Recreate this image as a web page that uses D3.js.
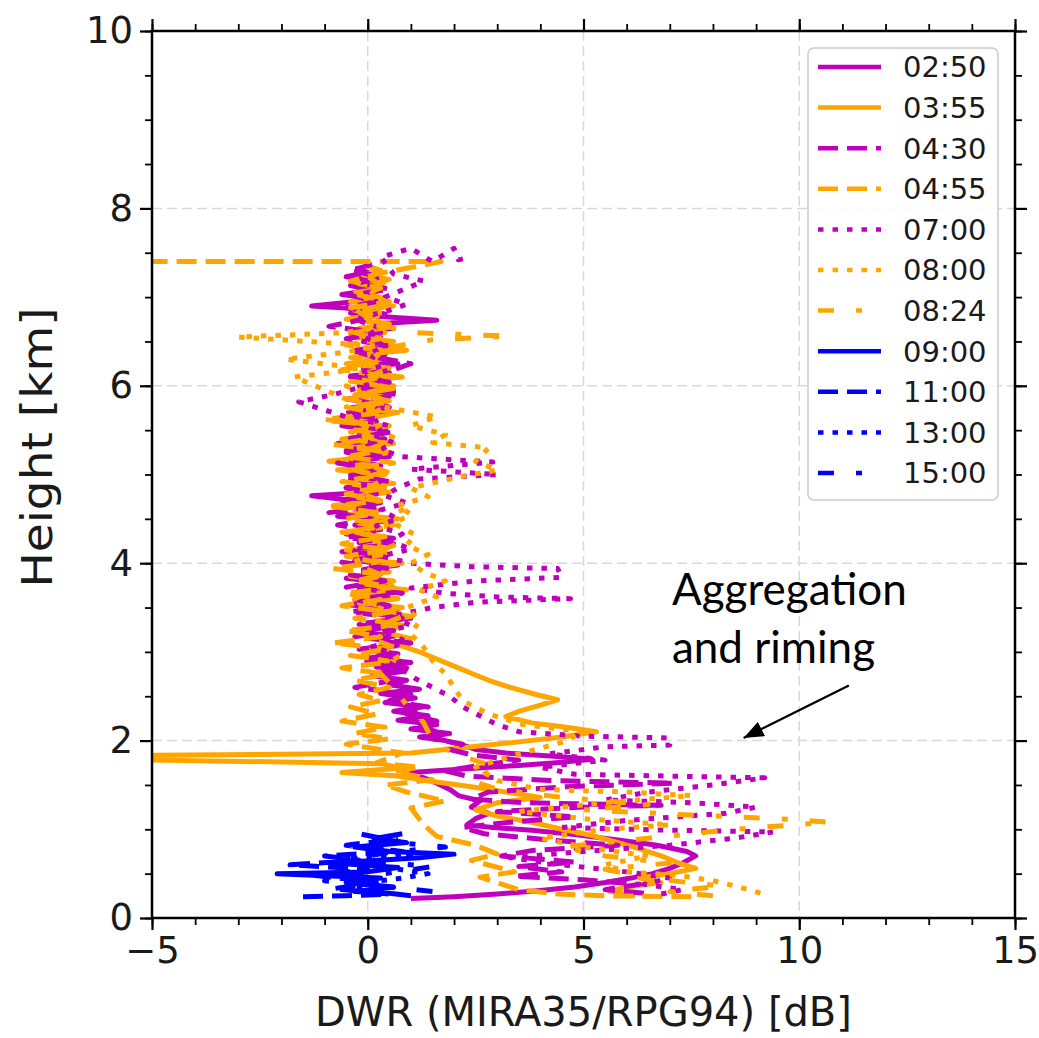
<!DOCTYPE html>
<html>
<head>
<meta charset="utf-8">
<script src="https://cdn.jsdelivr.net/npm/d3@7"></script>
<style>
  body { margin: 0; background: #fff; }
  svg { display: block; font-family: "DejaVu Sans", sans-serif; }
</style>
</head>
<body>
<svg id="dwrVis" width="1039" height="1038"></svg>
<script>
// DWR profiles, each point is [DWR dB, height km]
const s0250 = [[1.0,0.22],[2.0,0.24],[3.0,0.27],[4.0,0.31],[4.8,0.35],[5.5,0.40],[6.1,0.45],[6.6,0.50],[7.0,0.56],[7.3,0.62],[7.6,0.70],[7.4,0.75],[6.7,0.82],[5.8,0.88],[4.8,0.94],[3.8,0.99],[2.9,1.02],[2.3,1.05],[2.5,1.12],[2.8,1.18],[2.4,1.25],[2.6,1.32],[2.1,1.38],[1.9,1.45],[1.6,1.52],[1.3,1.58],[1.0,1.64],[2.2,1.68],[3.5,1.72],[4.6,1.76],[5.2,1.79],[4.4,1.82],[3.2,1.86],[2.5,1.9],[2.2,1.95],[1.8,2.0],
  [1.2,2.04],[1.9,2.08],[1.0,2.13],[1.6,2.18],[0.7,2.23],[1.4,2.28],[0.6,2.33],[1.3,2.38],[0.4,2.43],[1.1,2.48],[0.3,2.53],[1.2,2.58],[0.5,2.63],[0.9,2.68],[0.1,2.73],[0.8,2.78],[0.2,2.83],[1.0,2.88],[0.0,2.93],[0.7,2.98],[-0.1,3.03],[0.9,3.08],[0.3,3.13],[0.6,3.18],[-0.3,3.23],[0.5,3.28],[0.0,3.33],[1.0,3.38],[0.2,3.43],[0.7,3.48],[-0.4,3.53],[0.4,3.58],[-0.2,3.63],[0.8,3.68],[0.0,3.73],[0.5,3.78],[-0.5,3.83],[0.3,3.88],[-0.1,3.93],[0.7,3.98],[-0.3,4.03],[0.4,4.08],[-0.6,4.13],[0.2,4.18],[-0.2,4.23],[0.6,4.28],[-0.5,4.33],[0.3,4.38],[-0.3,4.43],[0.5,4.48],[-0.7,4.53],[0.1,4.58],[-0.4,4.63],[0.3,4.68],[-0.6,4.72],[-1.3,4.76],[0.0,4.8],[-0.5,4.85],[0.4,4.9],[-0.4,4.95],[0.2,5.0],[-0.6,5.05],[0.3,5.1],[-0.3,5.15],[0.5,5.2],[-0.5,5.25],[0.1,5.3],[-0.7,5.35],[0.4,5.4],[-0.2,5.45],[0.3,5.5],[-0.6,5.55],[0.2,5.6],[-0.3,5.65],[0.5,5.7],[-0.4,5.75],[0.3,5.8],[-0.5,5.85],[0.1,5.9],[0.6,5.95],[-0.2,6.0],[0.4,6.05],[-0.4,6.1],[0.5,6.15],[-0.1,6.2],[0.7,6.25],[0.0,6.3],[0.4,6.35],[-0.3,6.4],[0.5,6.45],[-0.1,6.5],[0.3,6.55],[-0.4,6.6],[0.6,6.65],[0.2,6.7],[1.6,6.74],[0.3,6.78],[-0.4,6.82],[0.1,6.86],[-1.3,6.9],[-0.5,6.94],[0.2,6.98],[-0.6,7.03],[0.1,7.08],[-0.4,7.13],[0.3,7.18],[-0.5,7.23],[0.0,7.28],[-0.3,7.32]];

const s0355 = [[6.2,0.25],[5.6,0.3],[6.0,0.35],[6.8,0.4],[6.3,0.45],[7.0,0.5],[7.6,0.56],[7.2,0.62],[6.8,0.7],[6.3,0.78],[5.8,0.85],[5.2,0.93],[4.5,1.0],[3.8,1.08],[3.0,1.15],[2.5,1.22],[3.0,1.3],[4.0,1.36],[3.2,1.42],[2.4,1.48],[1.5,1.54],[0.7,1.6],[-0.6,1.64],[0.8,1.69],[0.3,1.74],[-6.0,1.79],[-6.0,1.83],[1.0,1.86],[2.2,1.92],[3.4,1.98],[4.5,2.04],[5.3,2.1],[4.6,2.15],[3.8,2.2],[3.2,2.27],[3.5,2.33],[4.0,2.4],[4.4,2.46],[3.9,2.52],[3.3,2.6],[2.8,2.68],[2.4,2.76],[2.0,2.84],[1.6,2.92],[1.2,3.0],[0.7,3.08],[1.0,3.15],[0.4,3.22],[0.8,3.3],
  [0.2,3.35],[1.0,3.4],[0.3,3.45],[0.8,3.5],[-0.2,3.55],[0.7,3.6],[0.0,3.65],[0.9,3.7],[-0.1,3.75],[0.6,3.8],[-0.4,3.85],[0.5,3.9],[0.1,3.95],[0.8,4.0],[-0.3,4.05],[0.4,4.1],[-0.5,4.15],[0.6,4.2],[0.0,4.25],[0.4,4.3],[-0.6,4.35],[0.3,4.4],[-0.2,4.45],[0.7,4.5],[-0.4,4.55],[0.2,4.6],[-0.8,4.65],[0.3,4.7],[-0.3,4.75],[0.5,4.8],[-0.5,4.85],[0.6,4.9],[-0.2,4.95],[0.4,5.0],[-0.7,5.05],[0.2,5.1],[-0.9,5.15],[0.0,5.2],[0.5,5.25],[-0.4,5.3],[0.6,5.35],[-0.6,5.4],[0.3,5.45],[-0.3,5.5],[0.4,5.55],[-0.8,5.6],[0.2,5.65],[0.7,5.7],[-0.3,5.75],[0.4,5.8],[-0.5,5.85],[0.3,5.9],[-0.2,5.95],[0.6,6.0],[-0.4,6.05],[0.8,6.1],[0.0,6.15],[0.5,6.2],[-0.5,6.25],[0.3,6.3],[-0.2,6.35],[0.9,6.4],[0.1,6.45],[0.6,6.5],[-0.4,6.55],[0.4,6.6],[-0.2,6.65],[0.5,6.7],[-0.5,6.75],[0.2,6.8],[-0.3,6.85],[0.6,6.9],[-0.4,6.95],[0.3,7.0],[-0.3,7.05],[0.4,7.1],[-0.2,7.15],[0.5,7.2],[-0.1,7.25],[0.3,7.3],[0.0,7.35]];

const s0430 = [[6.4,0.28],[5.5,0.32],[6.3,0.38],[5.0,0.43],[3.4,0.47],[4.5,0.52],[3.5,0.58],[4.8,0.63],[3.1,0.7],[3.8,0.76],[5.8,0.82],[4.2,0.88],[2.7,0.95],[2.2,1.02],[3.3,1.08],[4.8,1.14],[3.0,1.2],[5.0,1.25],[6.8,1.27],[3.6,1.3],[2.4,1.34],[2.8,1.42],[4.6,1.48],[7.1,1.52],[4.2,1.55],[2.3,1.6],[1.8,1.66],[2.6,1.72],[3.5,1.78],[2.4,1.84],[1.9,1.9],[2.2,1.96],[1.5,2.02],[1.8,2.08],[1.2,2.15],[1.6,2.22],[0.9,2.3],[1.4,2.38],[0.5,2.45],[1.0,2.52],[-0.3,2.6],[0.6,2.68],[0.2,2.75],
  [0.9,2.82],[-0.1,2.89],[0.7,2.96],[-0.2,3.03],[1.0,3.1],[-0.3,3.17],[0.6,3.24],[-0.2,3.31],[0.8,3.38],[-0.4,3.45],[0.5,3.52],[-0.3,3.59],[0.8,3.66],[-0.5,3.73],[0.4,3.8],[-0.4,3.87],[0.5,3.94],[-0.6,4.01],[0.2,4.08],[-0.4,4.15],[0.6,4.22],[-0.5,4.29],[0.2,4.36],[-0.7,4.43],[0.1,4.5],[-0.9,4.57],[0.3,4.64],[-0.6,4.71],[0.2,4.78],[-0.5,4.85],[0.5,4.92],[-0.4,4.99],[0.2,5.06],[-0.7,5.13],[0.3,5.2],[-0.5,5.27],[0.2,5.34],[-0.4,5.41],[0.6,5.48],[-0.2,5.55],[0.3,5.62],[-0.5,5.69],[0.5,5.76],[-0.2,5.83],[0.7,5.9],[-0.1,5.97],[0.5,6.04],[-0.4,6.11],[0.6,6.18],[1.0,6.25],[0.2,6.32],[-0.3,6.39],[0.5,6.46],[-0.5,6.53],[0.3,6.6],[-0.9,6.67],[-0.2,6.74],[0.4,6.81],[-0.5,6.88],[0.2,6.95],[-0.4,7.02],[0.5,7.09],[-0.2,7.16],[0.3,7.23],[-0.4,7.3],[0.1,7.37]];

const s0455 = [[7.5,0.24],[5.5,0.25],[4.4,0.27],[3.5,0.32],[2.6,0.46],[3.4,0.52],[2.4,0.65],[3.0,0.72],[2.5,0.82],[1.6,0.92],[1.3,1.05],[1.0,1.24],[1.8,1.32],[0.9,1.42],[0.4,1.5],[1.5,1.56],[0.6,1.65],[1.2,1.7],[0.2,1.75],[0.8,1.86],[-0.5,1.96],[0.5,2.02],[-0.3,2.08],[0.4,2.15],[-0.6,2.22],[0.2,2.3],[-0.4,2.38],[0.3,2.45],[-0.2,2.52],[0.5,2.6],[-0.3,2.68],
  [0.4,2.75],[-0.6,2.82],[0.6,2.89],[-0.4,2.96],[0.5,3.03],[-0.8,3.1],[0.3,3.17],[-0.5,3.24],[0.8,3.31],[-0.3,3.38],[0.5,3.45],[-0.6,3.52],[0.3,3.59],[-0.5,3.66],[0.6,3.73],[-0.3,3.8],[0.4,3.87],[-0.8,3.94],[0.2,4.01],[-0.5,4.08],[0.5,4.15],[-0.6,4.22],[0.3,4.29],[-0.4,4.36],[0.6,4.43],[-0.5,4.5],[0.2,4.57],[-0.8,4.64],[0.3,4.71],[-0.5,4.78],[0.5,4.85],[-0.6,4.92],[0.2,4.99],[-0.4,5.06],[0.6,5.13],[-0.5,5.2],[0.3,5.27],[-0.8,5.34],[0.2,5.41],[-0.4,5.48],[0.5,5.55],[-1.0,5.62],[0.2,5.69],[-0.5,5.76],[0.5,5.83],[-0.3,5.9],[0.6,5.97],[-0.2,6.04],[0.4,6.11],[-0.6,6.18],[0.2,6.25],[-0.4,6.32],[0.5,6.39],[-0.5,6.46],[0.3,6.53],[-0.3,6.6],[0.6,6.67],[-0.2,6.74],[0.4,6.81],[-0.4,6.88],[0.5,6.95],[-0.2,7.02],[0.3,7.1],[-0.4,7.18],[0.2,7.26],[1.7,7.4],[-6.0,7.4]];

const s0700 = [[6.8,0.27],[7.3,0.32],[6.4,0.38],[7.0,0.45],[6.0,0.52],[4.5,0.6],[3.3,0.68],[5.0,0.75],[7.0,0.82],[8.5,0.9],[9.4,0.97],[7.0,0.99],[4.5,1.02],[6.0,1.1],[8.3,1.18],[9.0,1.25],[7.5,1.3],[5.5,1.33],[6.5,1.42],[8.0,1.5],[9.2,1.58],[7.0,1.6],[4.8,1.62],[4.0,1.7],[5.5,1.78],[4.2,1.85],[5.5,1.93],[7.0,1.95],[7.0,2.03],[5.0,2.05],[3.5,2.1],[3.0,2.18],[2.6,2.28],[2.2,2.38],[1.9,2.5],[1.5,2.6],[1.1,2.7],[0.8,2.8],[0.4,2.9],
  [0.6,2.98],[0.1,3.06],[0.8,3.14],[0.3,3.22],[1.0,3.3],[0.5,3.4],[1.5,3.5],[2.5,3.56],[4.7,3.6],[3.0,3.62],[1.8,3.66],[1.0,3.72],[2.5,3.8],[4.5,3.84],[4.4,3.94],[2.4,3.96],[1.0,4.0],[0.3,4.08],[1.0,4.16],[0.5,4.25],[0.8,4.33],[0.2,4.42],[0.7,4.5],[0.3,4.6],[0.9,4.68],[0.4,4.76],[0.7,4.85],[1.2,4.95],[3.0,5.0],[1.0,5.06],[2.9,5.14],[0.8,5.2],[0.3,5.28],[0.6,5.36],[0.1,5.45],[0.5,5.55],[-0.5,5.65],[-1.6,5.82],[-0.8,5.9],[-0.2,5.98],[0.3,6.06],[-0.2,6.15],[0.5,6.25],[0.0,6.35],[0.4,6.45],[-0.1,6.55],[0.3,6.65],[-0.3,6.75],[0.5,6.85],[0.9,6.92],[0.4,7.0],[0.8,7.08],[1.3,7.18],[0.6,7.26],[0.3,7.45],[1.0,7.55],[1.5,7.4],[2.0,7.55],[2.1,7.42],[2.4,7.45]];

const s0800 = [[9.1,0.28],[8.6,0.35],[8.0,0.42],[7.2,0.48],[6.0,0.52],[5.5,0.6],[6.5,0.7],[5.0,0.8],[4.0,0.9],[5.5,1.0],[7.0,1.05],[5.0,1.12],[3.5,1.2],[5.5,1.3],[7.5,1.38],[6.0,1.42],[4.0,1.45],[3.0,1.55],[2.5,1.7],[3.5,1.85],[4.5,1.98],[5.0,2.1],[3.6,2.18],[2.8,2.3],[2.2,2.45],[2.0,2.6],[1.8,2.75],[1.5,2.9],[1.3,3.05],[1.0,3.2],[1.2,3.35],[0.9,3.5],[1.6,3.62],[1.2,3.7],[1.8,3.8],[1.3,3.9],[1.0,4.0],[1.4,4.1],[0.9,4.2],[1.1,4.32],[0.6,4.45],[1.0,4.55],[0.7,4.65],[1.4,4.75],[1.0,4.85],[2.2,4.98],[3.0,5.05],[2.5,5.15],[2.8,5.3],[1.5,5.36],[1.8,5.45],[1.0,5.55],[1.6,5.65],[0.5,5.75],[-0.5,5.85],[-1.7,6.1],[-0.8,6.15],[-0.2,6.2],[-1.9,6.3],[-0.5,6.38],[0.2,6.45],[-3.0,6.55],[-0.5,6.6],[0.4,6.68],[0.0,6.8],[0.5,6.92],[0.1,7.05],[0.4,7.18],[0.0,7.3]];

const s0824 = [[8.0,0.25],[7.0,0.3],[8.2,0.36],[6.5,0.45],[5.5,0.55],[7.0,0.62],[5.5,0.7],[4.5,0.8],[6.5,0.9],[8.5,1.0],[10.7,1.08],[9.5,1.12],[7.5,1.16],[5.0,1.22],[6.5,1.28],[4.5,1.36],[3.0,1.45],[2.4,1.55],[3.0,1.7],[2.0,1.85],[1.5,2.0],[1.3,2.2],[0.9,2.4],[0.6,2.6],[0.2,2.8],[0.9,3.0],[-0.2,3.2],[0.8,3.4],[-0.3,3.6],[0.7,3.8],[-0.4,4.0],[0.6,4.2],[-0.3,4.4],[0.8,4.6],[-0.2,4.8],[0.6,5.0],[-0.5,5.2],[0.7,5.4],[-0.3,5.6],[0.6,5.8],[-0.5,6.0],[0.5,6.2],[0.1,6.4],[1.5,6.52],[3.3,6.56],[1.0,6.6],[0.2,6.7],[-0.4,6.9],[0.4,7.1],[-0.2,7.3]];

const s0900 = [[1.0,0.25],[0.5,0.28],[-0.3,0.3],[0.6,0.35],[-0.5,0.4],[0.3,0.45],[-2.1,0.5],[0.0,0.52],[0.7,0.57],[-0.8,0.62],[1.2,0.68],[2.0,0.72],[0.5,0.75],[-0.3,0.8],[0.9,0.85],[0.2,0.9],[0.8,0.95]];
const s1100 = [[-1.5,0.24],[-0.5,0.25],[0.5,0.27],[-0.8,0.33],[0.2,0.4],[-1.2,0.48],[0.0,0.55],[-1.8,0.6],[-0.2,0.65],[-1.0,0.7],[0.8,0.75],[-0.5,0.82],[0.5,0.88],[-0.2,0.95]];
const s1300 = [[0.2,0.3],[-0.4,0.38],[0.8,0.45],[1.4,0.5],[0.3,0.58],[-0.6,0.66],[1.0,0.72],[0.2,0.8],[0.7,0.9]];
const s1500 = [[1.5,0.3],[0.5,0.35],[-1.0,0.42],[0.4,0.5],[1.5,0.58],[-0.5,0.66],[0.5,0.74],[1.8,0.8],[0.0,0.88]];

const seriesNames = ["02:50", "03:55", "04:30", "04:55", "07:00", "08:00", "08:24", "09:00", "11:00", "13:00", "15:00"];
const seriesData = [s0250, s0355, s0430, s0455, s0700, s0800, s0824, s0900, s1100, s1300, s1500];
const xTickValues = [-5, 0, 5, 10, 15];
const yTickValues = [0, 2, 4, 6, 8, 10];

// styles per series
const purple = "#bf00bf", orange = "#ffa500", blue = "#0000ff";
const lineStyles = {
  "02:50": { color: purple, dash: null },
  "03:55": { color: orange, dash: null },
  "04:30": { color: purple, dash: "20,9" },
  "04:55": { color: orange, dash: "20,9" },
  "07:00": { color: purple, dash: "5.5,9" },
  "08:00": { color: orange, dash: "5.5,9" },
  "08:24": { color: orange, dash: "16,22,6,22" },
  "09:00": { color: blue, dash: null },
  "11:00": { color: blue, dash: "20,9" },
  "13:00": { color: blue, dash: "5.5,9" },
  "15:00": { color: blue, dash: "16,22,6,22" }
};

class dwrProfileVis {
  constructor(_config) {
    this.config = {
      parentElement: _config.parentElement,
      containerWidth: _config.containerWidth || 1039,
      containerHeight: _config.containerHeight || 1038,
    }
    this.config.margin = _config.margin || { top: 31, bottom: 120, right: 24, left: 152 };
    this.initVis();
  }

  initVis() {
    let vis = this;
    vis.width = vis.config.containerWidth - vis.config.margin.left - vis.config.margin.right;
    vis.height = vis.config.containerHeight - vis.config.margin.top - vis.config.margin.bottom;

    const svg = d3.select(vis.config.parentElement);
    const g = svg.append('g')
      .attr('transform', `translate(${vis.config.margin.left},${vis.config.margin.top})`);

    vis.xScale = d3.scaleLinear().domain([-5, 15]).range([0, vis.width]);
    vis.yScale = d3.scaleLinear().domain([0, 10]).range([vis.height, 0]);

    // grid
    g.append('g').selectAll('line.vgrid')
      .data(xTickValues.slice(1, -1))
      .join('line')
      .attr('x1', d => vis.xScale(d)).attr('x2', d => vis.xScale(d))
      .attr('y1', 0).attr('y2', vis.height)
      .attr('stroke', '#d9d9d9').attr('stroke-width', 1.5).attr('stroke-dasharray', '10,5');
    g.append('g').selectAll('line.hgrid')
      .data(yTickValues.slice(1, -1))
      .join('line')
      .attr('y1', d => vis.yScale(d)).attr('y2', d => vis.yScale(d))
      .attr('x1', 0).attr('x2', vis.width)
      .attr('stroke', '#d9d9d9').attr('stroke-width', 1.5).attr('stroke-dasharray', '10,5');

    g.append('clipPath').attr('id', 'plotClip')
      .append('rect').attr('width', vis.width).attr('height', vis.height);

    const line = d3.line()
      .x(p => vis.xScale(p[0]))
      .y(p => vis.yScale(p[1]));

    g.append('g').attr('clip-path', 'url(#plotClip)')
      .selectAll('path')
      .data(seriesData)
      .join('path')
      .attr('d', d => line(d))
      .attr('fill', 'none')
      .attr('stroke', (d, i) => lineStyles[seriesNames[i]].color)
      .attr('stroke-width', 5)
      .attr('stroke-linejoin', 'round')
      .attr('stroke-dasharray', (d, i) => lineStyles[seriesNames[i]].dash);

    // axes on all four sides, labels on bottom and left only
    const xMinor = d3.range(-5, 15.01, 1);
    const yMinor = d3.range(0, 10.01, 0.5);
    const axes = [
      { ax: d3.axisBottom, s: vis.xScale, t: `translate(0,${vis.height})`, minor: xMinor, major: xTickValues, label: true },
      { ax: d3.axisTop, s: vis.xScale, t: 'translate(0,0)', minor: xMinor, major: xTickValues, label: false },
      { ax: d3.axisLeft, s: vis.yScale, t: 'translate(0,0)', minor: yMinor, major: yTickValues, label: true },
      { ax: d3.axisRight, s: vis.yScale, t: `translate(${vis.width},0)`, minor: yMinor, major: yTickValues, label: false }
    ];
    axes.forEach(a => {
      const minorG = g.append('g').attr('transform', a.t)
        .call(a.ax(a.s).tickValues(a.minor).tickSize(7).tickFormat(''));
      minorG.select('.domain').remove();
      minorG.selectAll('line').attr('stroke', '#000').attr('stroke-width', 1.8);
      const majorG = g.append('g').attr('transform', a.t)
        .call(a.ax(a.s).tickValues(a.major).tickSize(12).tickPadding(7)
          .tickFormat(a.label ? d3.format('d') : ''));
      majorG.select('.domain').remove();
      majorG.selectAll('line').attr('stroke', '#000').attr('stroke-width', 2.2);
      majorG.selectAll('text')
        .attr('font-family', '"DejaVu Sans", sans-serif')
        .attr('font-size', 37)
        .attr('fill', '#1a1a1a');
    });

    g.append('rect')
      .attr('width', vis.width).attr('height', vis.height)
      .attr('fill', 'none').attr('stroke', '#000').attr('stroke-width', 2.5);

    // axis labels
    g.append('text')
      .attr('x', vis.width / 2).attr('y', vis.height + 108)
      .attr('text-anchor', 'middle')
      .attr('font-size', 40).attr('fill', '#1a1a1a')
      .text('DWR (MIRA35/RPG94) [dB]');
    g.append('text')
      .attr('transform', `translate(-100,${vis.height / 2 - 27}) rotate(-90) scale(1.12,1)`)
      .attr('text-anchor', 'middle')
      .attr('font-size', 42).attr('fill', '#1a1a1a')
      .text('Height [km]');

    // legend
    const legend = g.append('g').attr('transform', `translate(${vis.width - 207},17)`);
    legend.append('rect')
      .attr('width', 190).attr('height', 452).attr('rx', 6)
      .attr('fill', '#fff').attr('fill-opacity', 0.85)
      .attr('stroke', '#cccccc').attr('stroke-width', 1.5);
    const items = legend.selectAll('g.item')
      .data(seriesNames)
      .join('g')
      .attr('transform', (d, i) => `translate(0,${19 + i * 40.6})`);
    items.append('line')
      .attr('x1', 10).attr('x2', 73)
      .attr('stroke', d => lineStyles[d].color)
      .attr('stroke-width', 4.5)
      .attr('stroke-dasharray', d => lineStyles[d].dash);
    items.append('text')
      .attr('x', 95).attr('dy', '0.36em')
      .attr('font-size', 29).attr('fill', '#1a1a1a')
      .text(d => d);

    // annotation
    const annot = g.append('g').attr('font-family', 'Lato, "Open Sans", sans-serif')
      .attr('font-size', 44).attr('fill', '#000');
    annot.append('text').attr('x', vis.xScale(7.05)).attr('y', vis.yScale(3.53)).text('Aggregation');
    annot.append('text').attr('x', vis.xScale(7.05)).attr('y', vis.yScale(2.88)).text('and riming');
    svg.append('defs').append('marker')
      .attr('id', 'arrowHead').attr('viewBox', '0 0 10 8')
      .attr('refX', 10).attr('refY', 4)
      .attr('markerWidth', 20).attr('markerHeight', 16)
      .attr('markerUnits', 'userSpaceOnUse')
      .attr('orient', 'auto')
      .append('path').attr('d', 'M0,0 L10,4 L0,8 z').attr('fill', '#000');
    g.append('line')
      .attr('x1', vis.xScale(11.15)).attr('y1', vis.yScale(2.62))
      .attr('x2', vis.xScale(8.71)).attr('y2', vis.yScale(2.03))
      .attr('stroke', '#000').attr('stroke-width', 2.2)
      .attr('marker-end', 'url(#arrowHead)');
  }
}

new dwrProfileVis({ parentElement: 'svg#dwrVis' });
</script>
</body>
</html>
